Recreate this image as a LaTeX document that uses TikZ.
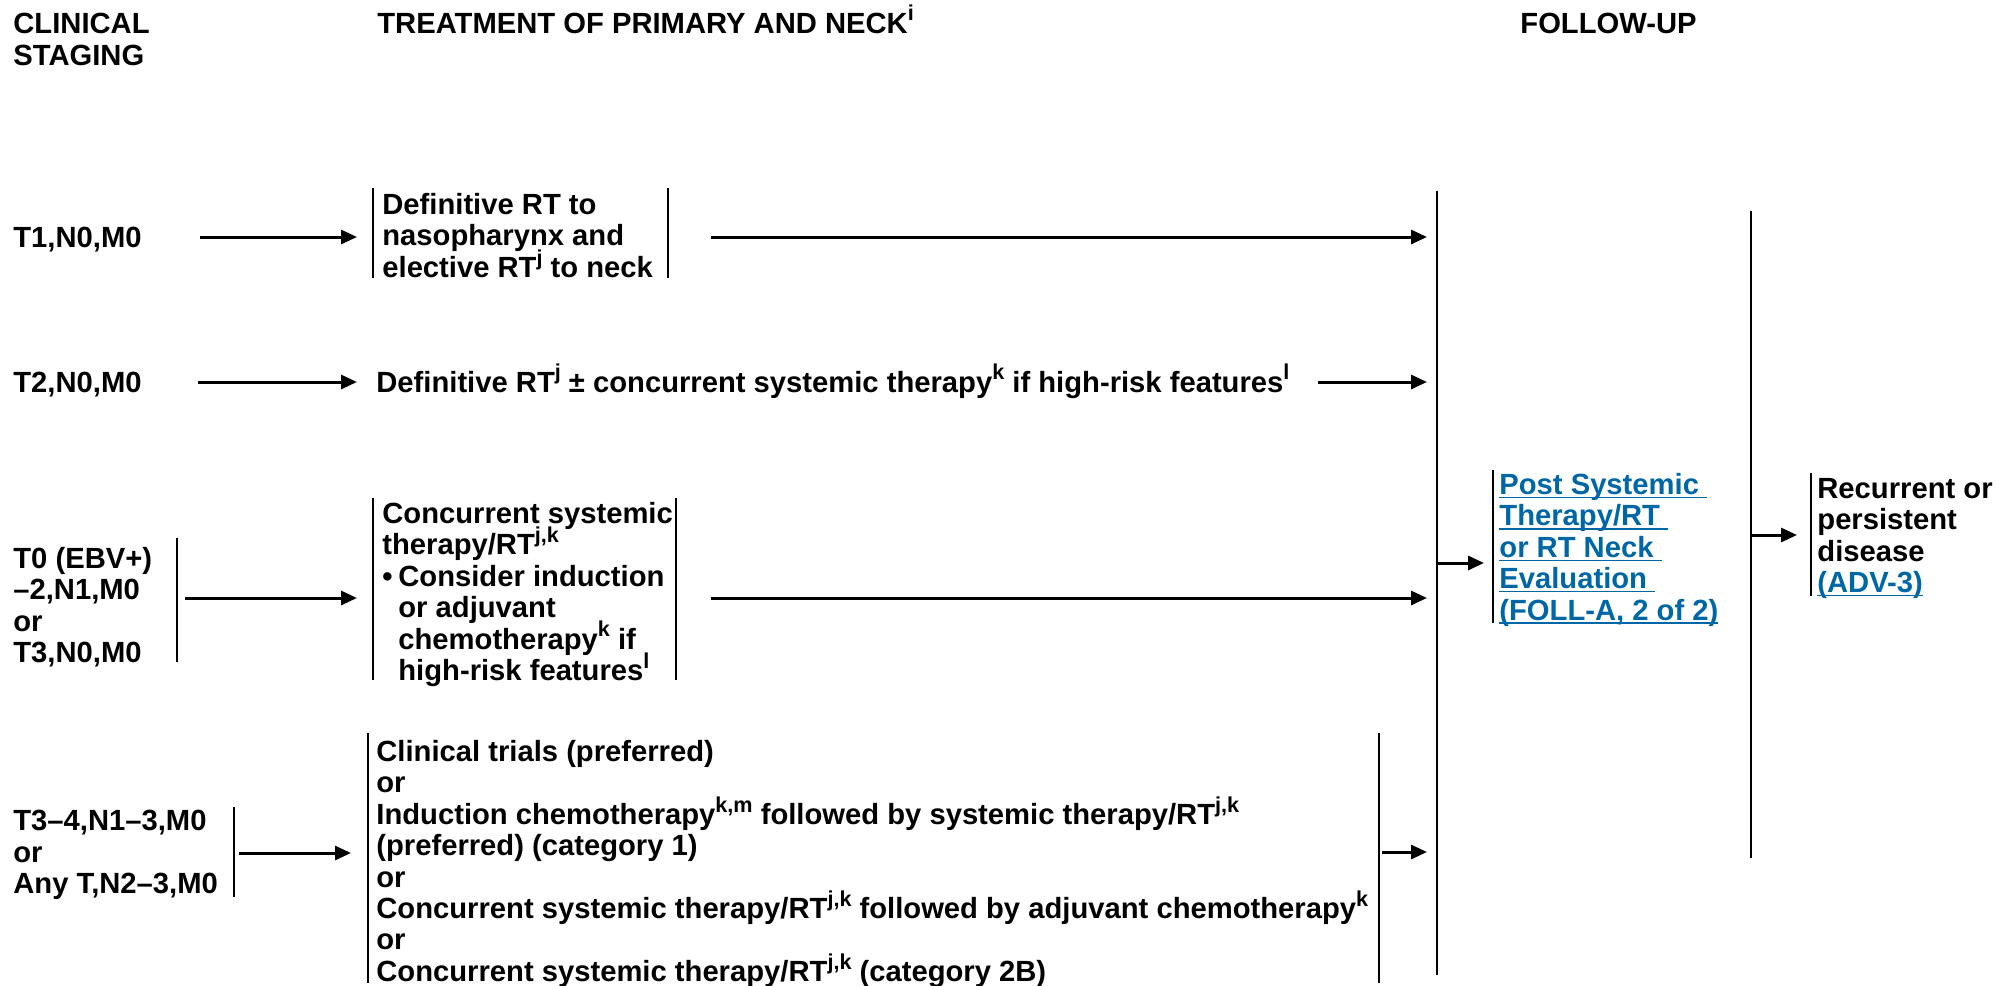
\documentclass[tikz,border=0pt]{standalone}
\usepackage{fontspec}
\setmainfont{Liberation Sans}
\usetikzlibrary{arrows.meta}
\definecolor{linkblue}{RGB}{0,103,166}
\newcommand{\sps}[1]{\raisebox{0.42em}{\fontsize{10.8}{11}\selectfont #1}}
\newcommand{\lk}[1]{\setbox0\hbox{#1}\rlap{\rule[-1.8pt]{\wd0}{0.7pt}}\box0}
\newcommand{\bul}{\makebox[8pt][l]{\textbullet}}
\newcommand{\ind}{\hspace*{8pt}}
\newcommand{\nodefont}{\fontsize{14.6}{15.7}\selectfont\bfseries\setlength{\lineskiplimit}{-100pt}\setlength{\lineskip}{0pt}}
\tikzset{
  txt/.style={font=\nodefont, inner sep=0pt, align=left},
  barline/.style={line width=1pt},
  arr/.style={line width=1.5pt, -{Triangle[length=8pt,width=7pt]}},
}
\begin{document}
\begin{tikzpicture}[x=0.5pt,y=-0.5pt]
\useasboundingbox (0,0) rectangle (1999,986);
% headers
\node[txt, anchor=north west] (h1) at (13,13) {CLINICAL\\STAGING};
\node[txt, anchor=base west] (h2) at (377,33) {TREATMENT OF PRIMARY AND NECK\sps{i}};
\node[txt, anchor=base west] (h3) at (1520,33) {FOLLOW-UP};
% stage labels
\node[txt, anchor=base west] (l1) at (13,247) {T1,N0,M0};
\node[txt, anchor=base west] (l2) at (13,392) {T2,N0,M0};
\node[txt, anchor=north west] (l3) at (13,547) {T0 (EBV+)\\–2,N1,M0\\or\\T3,N0,M0};
\node[txt, anchor=north west] (l4) at (13,810) {T3–4,N1–3,M0\\or\\Any T,N2–3,M0};
% treatment boxes
\node[txt, anchor=north west] (t1) at (382,193) {Definitive RT to\\nasopharynx and\\elective RT\sps{j} to neck};
\node[txt, anchor=base west] (t2) at (376,392) {Definitive RT\sps{j} ± concurrent systemic therapy\sps{k} if high-risk features\sps{l}};
\node[txt, anchor=north west] (t3) at (382,502) {Concurrent systemic\\therapy/RT\sps{j,k}\\\bul Consider induction\\\ind or adjuvant\\\ind chemotherapy\sps{k} if\\\ind high-risk features\sps{l}};
\node[txt, anchor=north west] (t4) at (376,740) {Clinical trials (preferred)\\or\\Induction chemotherapy\sps{k,m} followed by systemic therapy/RT\sps{j,k}\\(preferred) (category 1)\\or\\Concurrent systemic therapy/RT\sps{j,k} followed by adjuvant chemotherapy\sps{k}\\or\\Concurrent systemic therapy/RT\sps{j,k} (category 2B)};
% follow-up boxes
\node[txt, anchor=north west, text=linkblue] (f1) at (1499,473) {\lk{Post Systemic\ }\\\lk{Therapy/RT\ }\\\lk{or RT Neck\ }\\\lk{Evaluation\ }\\\lk{(FOLL-A, 2 of 2)}};
\node[txt, anchor=north west] (f2) at (1817,478) {Recurrent or\\persistent\\disease\\\textcolor{linkblue}{\lk{(ADV-3)}}};
% bar coordinates
\coordinate (b1l) at (373,188); \coordinate (b1r) at (668,188); \coordinate (b1b) at (373,278);
\coordinate (c3) at (177,538); \coordinate (c3b) at (177,662);
\coordinate (b3l) at (373,498); \coordinate (b3r) at (676,498); \coordinate (b3b) at (373,680);
\coordinate (c4) at (234,807); \coordinate (c4b) at (234,897);
\coordinate (b4l) at (368,733); \coordinate (b4r) at (1379,733); \coordinate (b4b) at (368,983);
\coordinate (V1t) at (1437,191); \coordinate (V1b) at (1437,975);
\coordinate (V2t) at (1751,211); \coordinate (V2b) at (1751,858);
\coordinate (pf) at (1493,470); \coordinate (pfb) at (1493,623);
\coordinate (rc) at (1811,473); \coordinate (rcb) at (1811,596);
% bars
\draw[barline] (b1l) -- (b1b);
\draw[barline] (b1r) -- (b1r |- b1b);
\draw[barline] (c3) -- (c3b);
\draw[barline] (b3l) -- (b3b);
\draw[barline] (b3r) -- (b3r |- b3b);
\draw[barline] (c4) -- (c4b);
\draw[barline] (b4l) -- (b4b);
\draw[barline] (b4r) -- (b4r |- b4b);
\draw[barline] (V1t) -- (V1b);
\draw[barline] (V2t) -- (V2b);
\draw[barline] (pf) -- (pfb);
\draw[barline] (rc) -- (rcb);
% arrow start coordinates
\coordinate (s1) at (200,237); \coordinate (s1r) at (711,237);
\coordinate (s2) at (198,382); \coordinate (s2r) at (1318,382);
\coordinate (s3) at (185,598); \coordinate (s3r) at (711,598);
\coordinate (s4) at (239,853); \coordinate (s4r) at (1382,852);
\coordinate (sp) at (1437,563); \coordinate (sr) at (1751,535);
% arrows
\draw[arr, shorten >=8pt] (s1) -- (s1 -| b1l);
\draw[arr, shorten >=5pt] (s1r) -- (s1r -| V1t);
\draw[arr, shorten >=9.5pt] (s2) -- (s2 -| t2.west);
\draw[arr, shorten >=5pt] (s2r) -- (s2r -| V1t);
\draw[arr, shorten >=8pt] (s3) -- (s3 -| b3l);
\draw[arr, shorten >=5pt] (s3r) -- (s3r -| V1t);
\draw[arr, shorten >=8.5pt] (s4) -- (s4 -| b4l);
\draw[arr, shorten >=5pt] (s4r) -- (s4r -| V1t);
\draw[arr, shorten >=4.5pt] (sp) -- (sp -| pf);
\draw[arr, shorten >=7pt] (sr) -- (sr -| rc);
\end{tikzpicture}
\end{document}
